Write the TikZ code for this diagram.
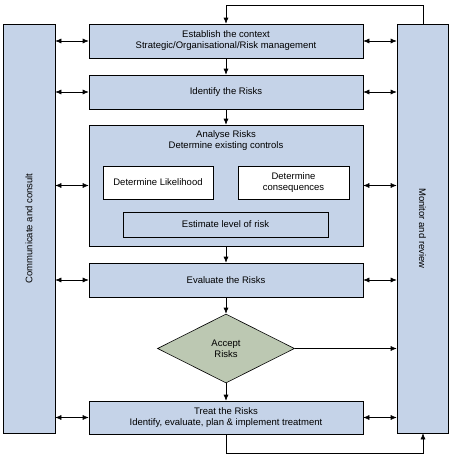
\documentclass[tikz,border=0pt]{standalone}
\usepackage{fontspec}
\setmainfont{Liberation Sans}
\usetikzlibrary{shapes.geometric,arrows.meta,positioning}
\definecolor{boxblue}{HTML}{C5D3E8}
\definecolor{sage}{HTML}{BCC8B2}

\begin{document}
\begin{tikzpicture}[x=1pt, y=-1pt, line width=0.6pt, font=\fontsize{9.5}{11}\selectfont,
    stage/.style={draw, fill=boxblue, minimum width=274pt, minimum height=34pt, align=center, inner sep=0pt},
    side/.style={draw, fill=boxblue, minimum width=52pt, minimum height=409pt, inner sep=0pt},
    sub/.style={draw, fill=white, minimum width=110pt, minimum height=33pt, align=center, inner sep=0pt},
    flow/.style={-{Latex[length=6pt,width=5pt]}},
    both/.style={{Latex[length=6pt,width=5pt]}-{Latex[length=6pt,width=5pt]}}]
\useasboundingbox (0,0) rectangle (452,458);
% side columns
\node[side] (comm) at (29,228.5) {};
\node[rotate=90] (commtext) at (comm) {Communicate and consult};
\node[side, minimum width=51pt] (monitor) at (422.5,228.5) {};
\node[rotate=-90] (montext) at (monitor) {Monitor and review};
% main process
\node[stage] (context) at (226,41) {Establish the context\\Strategic/Organisational/Risk management};
\node[stage] (identify) at (226,92) {Identify the Risks};
\node[stage, minimum height=121pt] (analyse) at (226,185.5) {};
\node[align=center] (analysetext) at (226,141) {Analyse Risks\\Determine existing controls};
\node[sub] (likely) at (158,182.5) {Determine Likelihood};
\node[sub, minimum width=111pt] (conseq) at (293.5,182.5) {Determine\\consequences};
\node[stage, minimum width=205pt, minimum height=25pt] (level) at (225.5,224.5) {Estimate level of risk};
\node[stage] (evaluate) at (226,280) {Evaluate the Risks};
\node[draw, diamond, fill=sage, minimum width=137pt, minimum height=69pt, inner sep=0pt, align=center] (accept) at (226,348.5) {Accept\\Risks};
\node[stage, minimum height=33pt] (treat) at (226,417.5) {Treat the Risks\\Identify, evaluate, plan \& implement treatment};
% flow down
\draw[flow] (context) -- (identify);
\draw[flow] (identify) -- (analyse);
\draw[flow] (analyse) -- (evaluate);
\draw[flow] (evaluate) -- (accept);
\draw[flow] (accept) -- (treat);
\draw[flow] (accept) -- (accept -| monitor.west);
% links to the side columns
\foreach \s in {context,identify,analyse,evaluate,treat}{
  \draw[both] (comm.east |- \s) -- (\s.west);
  \draw[both] (\s.east) -- (monitor.west |- \s);
}
% feedback loops
\draw[flow] (monitor.north) ++(0.5,0) |- (226,5) -- (context.north);
\draw[flow] (treat.south) |- (423,453) -- (monitor.south -| 423,0);
\end{tikzpicture}
\end{document}
